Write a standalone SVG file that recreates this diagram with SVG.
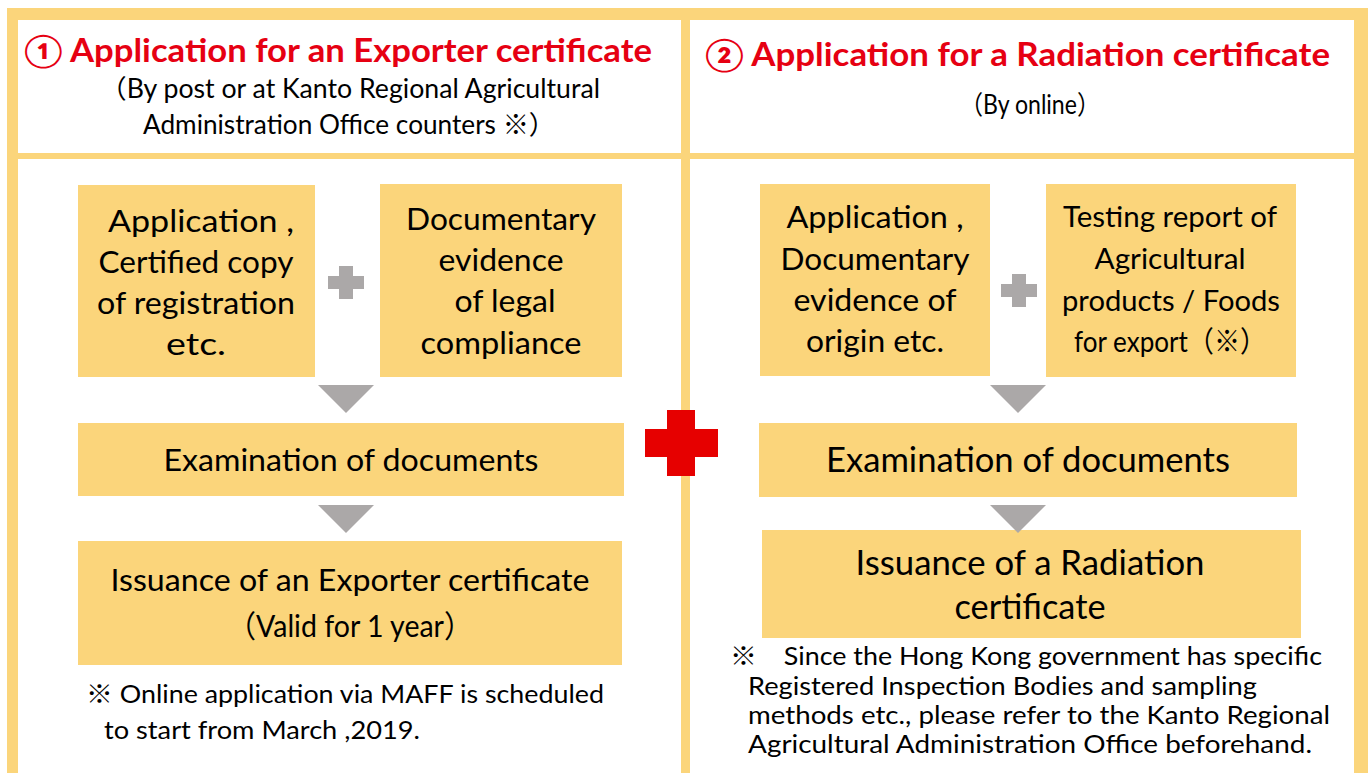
<svg xmlns="http://www.w3.org/2000/svg" width="1368" height="773" viewBox="0 0 1368 773">
<style>
.box{fill:#FBD57B}
.frame{fill:#FBD57B}
.t{font-family:Lato,"Liberation Sans","Noto Sans CJK JP",sans-serif;fill:#000;text-anchor:middle}
.title{font-family:Lato,"Liberation Sans","Noto Sans CJK JP",sans-serif;font-weight:bold;fill:#E60012;font-size:32px}
.note{font-family:Lato,"Liberation Sans","Noto Sans CJK JP",sans-serif;fill:#000;font-size:25px}
.gray{fill:#ABA8A8}
</style>
<rect width="1368" height="773" fill="#fff"/>
<g id="frame">
<rect class="frame" x="7" y="8" width="1361" height="765"/>
<rect x="18" y="20" width="663" height="133" fill="#fff"/>
<rect x="18" y="159" width="663" height="614" fill="#fff"/>
<rect x="690" y="20" width="664" height="133" fill="#fff"/>
<rect x="690" y="159" width="664" height="614" fill="#fff"/>
</g>
<g id="header1">
<text class="title" x="24" y="62" textLength="628" lengthAdjust="spacingAndGlyphs">① Application for an Exporter certificate</text>
<text class="t" x="350" y="98" font-size="26" textLength="500" lengthAdjust="spacingAndGlyphs">（By post or at Kanto Regional Agricultural</text>
<text class="t" x="349" y="134" font-size="26" textLength="412" lengthAdjust="spacingAndGlyphs">Administration Office counters ※）</text>
</g>
<g id="header2">
<text class="title" x="705" y="66" textLength="625" lengthAdjust="spacingAndGlyphs">② Application for a Radiation certificate</text>
<text class="t" x="1030" y="114" font-size="26" textLength="140" lengthAdjust="spacingAndGlyphs">（By online）</text>
</g>
<g id="box1">
<rect class="box" x="78" y="185" width="237" height="192"/>
<text class="t" font-size="31" x="201" y="232" textLength="186" lengthAdjust="spacingAndGlyphs">Application ,</text>
<text class="t" font-size="31" x="196" y="273" textLength="195" lengthAdjust="spacingAndGlyphs">Certified copy</text>
<text class="t" font-size="31" x="196" y="314" textLength="198" lengthAdjust="spacingAndGlyphs">of registration</text>
<text class="t" font-size="31" x="196" y="355" textLength="60" lengthAdjust="spacingAndGlyphs">etc.</text>
</g>
<g id="box2">
<rect class="box" x="380" y="184" width="242" height="193"/>
<text class="t" font-size="31" x="501" y="230" textLength="190" lengthAdjust="spacingAndGlyphs">Documentary</text>
<text class="t" font-size="31" x="501" y="271" textLength="125" lengthAdjust="spacingAndGlyphs">evidence</text>
<text class="t" font-size="31" x="505" y="312" textLength="101" lengthAdjust="spacingAndGlyphs">of legal</text>
<text class="t" font-size="31" x="501" y="354" textLength="161" lengthAdjust="spacingAndGlyphs">compliance</text>
</g>
<g id="exam1">
<rect class="box" x="78" y="423" width="546" height="73"/>
<text class="t" font-size="31" x="351" y="471" textLength="375" lengthAdjust="spacingAndGlyphs">Examination of documents</text>
</g>
<g id="issue1">
<rect class="box" x="78" y="541" width="544" height="124"/>
<text class="t" font-size="31" x="350" y="591" textLength="479" lengthAdjust="spacingAndGlyphs">Issuance of an Exporter certificate</text>
<text class="t" font-size="31" x="350" y="637" textLength="245" lengthAdjust="spacingAndGlyphs">（Valid for 1 year）</text>
</g>
<g id="note1">
<text class="note" x="86" y="703" textLength="518" lengthAdjust="spacingAndGlyphs">※ Online application via MAFF is scheduled</text>
<text class="note" x="104" y="739" textLength="316" lengthAdjust="spacingAndGlyphs">to start from March ,2019.</text>
</g>
<g id="box3">
<rect class="box" x="760" y="184" width="230" height="192"/>
<text class="t" font-size="31" x="875" y="228" textLength="177" lengthAdjust="spacingAndGlyphs">Application ,</text>
<text class="t" font-size="31" x="875" y="270" textLength="189" lengthAdjust="spacingAndGlyphs">Documentary</text>
<text class="t" font-size="31" x="875" y="311" textLength="163" lengthAdjust="spacingAndGlyphs">evidence of</text>
<text class="t" font-size="31" x="875" y="352" textLength="138" lengthAdjust="spacingAndGlyphs">origin etc.</text>
</g>
<g id="box4">
<rect class="box" x="1046" y="184" width="250" height="193"/>
<text class="t" font-size="29" x="1170" y="227" textLength="214" lengthAdjust="spacingAndGlyphs">Testing report of</text>
<text class="t" font-size="29" x="1170" y="269" textLength="151" lengthAdjust="spacingAndGlyphs">Agricultural</text>
<text class="t" font-size="29" x="1171" y="311" textLength="218" lengthAdjust="spacingAndGlyphs">products / Foods</text>
<text class="t" font-size="29" x="1170" y="352" textLength="192" lengthAdjust="spacingAndGlyphs">for export（※）</text>
</g>
<g id="exam2">
<rect class="box" x="759" y="423" width="538" height="74"/>
<text class="t" font-size="34" x="1028" y="472" textLength="404" lengthAdjust="spacingAndGlyphs">Examination of documents</text>
</g>
<g id="issue2">
<rect class="box" x="762" y="530" width="539" height="108"/>
<text class="t" font-size="34" x="1030" y="575" textLength="349" lengthAdjust="spacingAndGlyphs">Issuance of a Radiation</text>
<text class="t" font-size="34" x="1030" y="619" textLength="151" lengthAdjust="spacingAndGlyphs">certificate</text>
</g>
<g id="note2">
<text class="note" x="730" y="665" textLength="592" lengthAdjust="spacingAndGlyphs">※　Since the Hong Kong government  has specific</text>
<text class="note" x="748" y="695" textLength="509" lengthAdjust="spacingAndGlyphs">Registered Inspection Bodies and sampling</text>
<text class="note" x="748" y="724" textLength="582" lengthAdjust="spacingAndGlyphs">methods etc.,  please refer to the Kanto Regional</text>
<text class="note" x="748" y="753" textLength="564" lengthAdjust="spacingAndGlyphs">Agricultural Administration Office beforehand.</text>
</g>
<g id="connectors">
<path class="gray" d="M339 266h14v10h11v13h-11v10h-14v-10h-11v-13h11z"/>
<path class="gray" d="M1012 274h14v10h11v13h-11v10h-14v-10h-11v-13h11z"/>
<polygon class="gray" points="318,385 374,385 346,413"/>
<polygon class="gray" points="318,505 374,505 346,533"/>
<polygon class="gray" points="990,385 1046,385 1018,413"/>
<polygon class="gray" points="990,505 1046,505 1018,533"/>
<path fill="#E60000" d="M667 410h28v19h23v28h-23v19h-28v-19h-22v-28h22z"/>
</g>
</svg>
